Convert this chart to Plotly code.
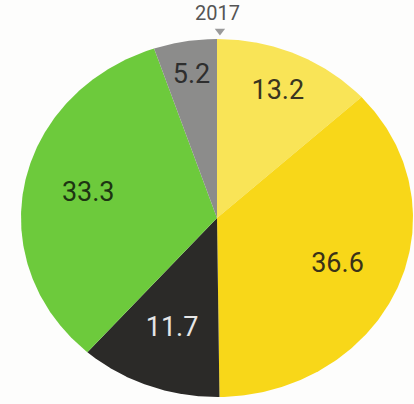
import numpy as np
import plotly.graph_objects as go

labels = ["13.2", "36.6", "11.7", "33.3", "5.2"]
values = [13.2, 36.6, 11.7, 33.3, 5.2]
colors = ["#F9E457", "#F8D719", "#2B2A28", "#6DCA3C", "#8C8C8B"]
text_colors = ["#3a3520", "#3a3218", "#e6e6e6", "#1d3512", "#2e2e2e"]
label_r = [0.77, 0.67, 0.66, 0.67, 0.80]
title = "2017"

W, H = 414, 404
cx, cy = 217, 218
rx, ry = 196, 179

fig = go.Figure()
total = sum(values)
start = 0.0
tx, ty = [], []
for i, v in enumerate(values):
    a0 = start / total * 2 * np.pi
    a1 = (start + v) / total * 2 * np.pi
    t = np.linspace(a0, a1, 200)
    xs = np.concatenate([[0], np.sin(t), [0]])
    ys = np.concatenate([[0], np.cos(t), [0]])
    fig.add_trace(go.Scatter(x=xs, y=ys, fill="toself", fillcolor=colors[i],
                             mode="lines", line=dict(width=0, color=colors[i]),
                             hoverinfo="skip", showlegend=False))
    am = (start + v / 2) / total * 2 * np.pi
    tx.append(label_r[i] * np.sin(am))
    ty.append(label_r[i] * np.cos(am))
    start += v

fig.add_trace(go.Scatter(x=tx, y=ty, mode="text", text=labels,
                         textfont=dict(family="Roboto", size=27, color=text_colors),
                         hoverinfo="skip", showlegend=False))

# marker at top
fig.add_trace(go.Scatter(x=[0.015], y=[(cy - 31) / ry], mode="markers",
                         marker=dict(symbol="triangle-down", size=9, color="#9a9a9a"),
                         hoverinfo="skip", showlegend=False))

fig.add_annotation(x=0.005, y=(cy - 13) / ry, text=title, showarrow=False,
                   font=dict(family="Roboto", size=20, color="#555555"),
                   xref="x", yref="y")

fig.update_layout(
    width=W, height=H,
    margin=dict(l=0, r=0, t=0, b=0),
    paper_bgcolor="#fdfdfc", plot_bgcolor="#fdfdfc",
    xaxis=dict(range=[-cx / rx, (W - cx) / rx], visible=False, fixedrange=True),
    yaxis=dict(range=[-(H - cy) / ry, cy / ry], visible=False, fixedrange=True),
)
fig.write_html("out.html")
